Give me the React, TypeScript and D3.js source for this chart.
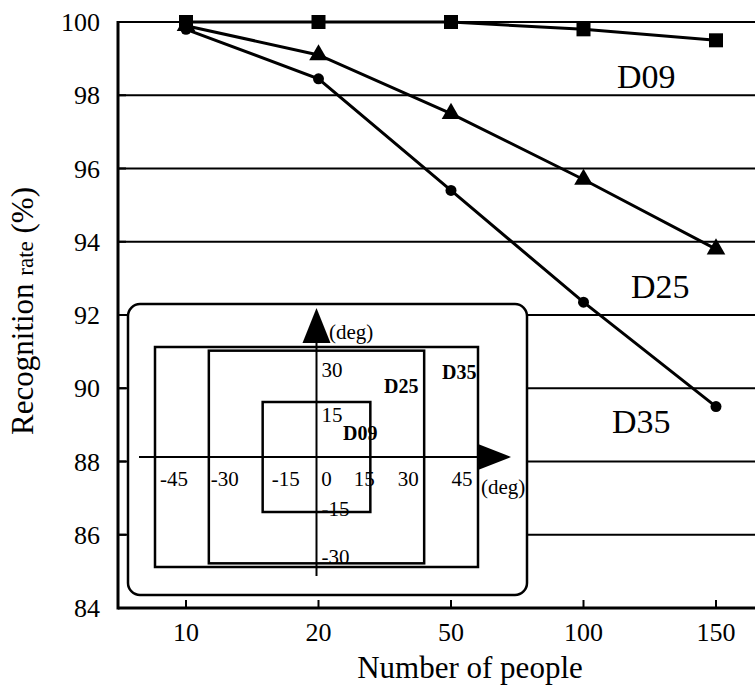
import React from "react";
import * as d3 from "d3";

const categories = ["10", "20", "50", "100", "150"];
const d09 = [100, 100, 100, 99.8, 99.5];
const d25 = [99.9, 99.1, 97.5, 95.7, 93.8];
const d35 = [99.8, 98.45, 95.4, 92.35, 89.5];
const yTicks = [84, 86, 88, 90, 92, 94, 96, 98, 100];
const insetXTicks = [-45, -30, -15, 0, 15, 30, 45];
const insetYTicks = [30, 15, -15, -30];
const regions = [
  { name: "D35", h: 45, v: 30 },
  { name: "D25", h: 30, v: 29 },
  { name: "D09", h: 15, v: 15 },
];

const W = 755;
const H = 693;
const FONT = "'Liberation Serif', 'Times New Roman', serif";

export default function App() {
  const x = d3.scalePoint<string>().domain(categories).range([186, 716]);
  const y = d3.scaleLinear().domain([84, 100]).range([608, 22]);
  const left = 118;
  const bottom = 608;

  const line = d3
    .line<number>()
    .x((_, i) => x(categories[i]) as number)
    .y((d) => y(d));

  // inset scales (degrees)
  const gx = d3.scaleLinear().domain([-45, 45]).range([155, 478]);
  const gy = d3.scaleLinear().domain([-30, 30]).range([567, 347]);
  const cx = gx(0);
  const cy = gy(0);

  const tri = d3.symbol().type(d3.symbolTriangle).size(150);

  const xLabelPos = (t: number) => {
    if (t === -45) return gx(t) + 19;
    if (t === -30) return gx(t) + 16;
    if (t === -15) return gx(t) + 23;
    if (t === 0) return gx(t) + 10;
    if (t === 15) return gx(t) - 6;
    return gx(t) - 16;
  };
  const yLabelPos = (t: number) => (t > 0 ? gy(t) + (t === 30 ? 30 : 20) : gy(t) + (t === -15 ? 4 : -3));

  return (
    <svg width={W} height={H} style={{ display: "block", position: "absolute", left: 0, top: 0 }}>
      <rect width={W} height={H} fill="#fff" />
      {/* gridlines */}
      {yTicks.slice(1).map((t) => (
        <line key={t} x1={left} x2={W} y1={y(t)} y2={y(t)} stroke="#000" strokeWidth={2} />
      ))}
      {/* y inner ticks */}
      {yTicks.map((t) => (
        <line key={"yt" + t} x1={left} x2={left + 8} y1={y(t)} y2={y(t)} stroke="#000" strokeWidth={2} />
      ))}
      {/* x ticks */}
      {categories.map((c) => (
        <line key={"xt" + c} x1={x(c)} x2={x(c)} y1={bottom} y2={bottom - 8} stroke="#000" strokeWidth={2} />
      ))}
      {/* axes */}
      <line x1={left} x2={left} y1={y(100) - 1} y2={bottom + 1.5} stroke="#000" strokeWidth={3} />
      <line x1={left} x2={W} y1={bottom} y2={bottom} stroke="#000" strokeWidth={3} />

      {/* tick labels */}
      {yTicks.map((t) => (
        <text key={"yl" + t} x={100} y={y(t) + 9} textAnchor="end" fontFamily={FONT} fontSize={26}>
          {t}
        </text>
      ))}
      {categories.map((c) => (
        <text key={"xl" + c} x={x(c)} y={641} textAnchor="middle" fontFamily={FONT} fontSize={26}>
          {c}
        </text>
      ))}
      <text x={470} y={678} textAnchor="middle" fontFamily={FONT} fontSize={31}>
        Number of people
      </text>
      <text
        transform={`translate(33,311) rotate(-90)`}
        textAnchor="middle"
        fontFamily={FONT}
        fontSize={31}
      >
        Recognition <tspan fontSize={23}>rate</tspan> (%)
      </text>

      {/* series */}
      {[d09, d25, d35].map((s, k) => (
        <path key={"s" + k} d={line(s) as string} fill="none" stroke="#000" strokeWidth={3} />
      ))}
      {d09.map((v, i) => (
        <rect key={"sq" + i} x={(x(categories[i]) as number) - 7} y={y(v) - 7} width={14} height={14} fill="#000" />
      ))}
      {d25.map((v, i) => (
        <path key={"tr" + i} d={tri() as string} transform={`translate(${x(categories[i])},${y(v)})`} fill="#000" />
      ))}
      {d35.map((v, i) => (
        <circle key={"ci" + i} cx={x(categories[i])} cy={y(v)} r={5.5} fill="#000" />
      ))}

      {/* series labels */}
      <text x={617} y={88} fontFamily={FONT} fontSize={34}>D09</text>
      <text x={631} y={298} fontFamily={FONT} fontSize={34}>D25</text>
      <text x={612} y={433} fontFamily={FONT} fontSize={34}>D35</text>

      {/* inset */}
      <rect x={128} y={304} width={399} height={291} rx={12} ry={12} fill="#fff" stroke="#000" strokeWidth={2.5} />
      {regions.map((r) => (
        <rect
          key={r.name}
          x={gx(-r.h)}
          y={gy(r.v)}
          width={gx(r.h) - gx(-r.h)}
          height={gy(-r.v) - gy(r.v)}
          fill="none"
          stroke="#000"
          strokeWidth={2.5}
        />
      ))}
      {/* inset axes */}
      <line x1={139} x2={482} y1={cy} y2={cy} stroke="#000" strokeWidth={2} />
      <path d={`M${478},${cy - 13} L${511},${cy} L${478},${cy + 13} Z`} fill="#000" />
      <line x1={cx} x2={cx} y1={576} y2={340} stroke="#000" strokeWidth={2} />
      <path d={`M${cx - 14},${343} L${cx},${308} L${cx + 14},${343} Z`} fill="#000" />

      {insetXTicks.map((t) => (
        <text key={"ix" + t} x={xLabelPos(t)} y={486} textAnchor="middle" fontFamily={FONT} fontSize={21}>
          {t}
        </text>
      ))}
      <text x={481} y={494} fontFamily={FONT} fontSize={21}>(deg)</text>
      {insetYTicks.map((t) => (
        <text key={"iy" + t} x={cx + 5} y={yLabelPos(t)} fontFamily={FONT} fontSize={21}>
          {t}
        </text>
      ))}
      <text x={329} y={339} fontFamily={FONT} fontSize={21}>(deg)</text>
      <text x={442} y={379} fontFamily={FONT} fontSize={20} fontWeight="bold">D35</text>
      <text x={384} y={393} fontFamily={FONT} fontSize={20} fontWeight="bold">D25</text>
      <text x={343} y={440} fontFamily={FONT} fontSize={20} fontWeight="bold">D09</text>
    </svg>
  );
}
